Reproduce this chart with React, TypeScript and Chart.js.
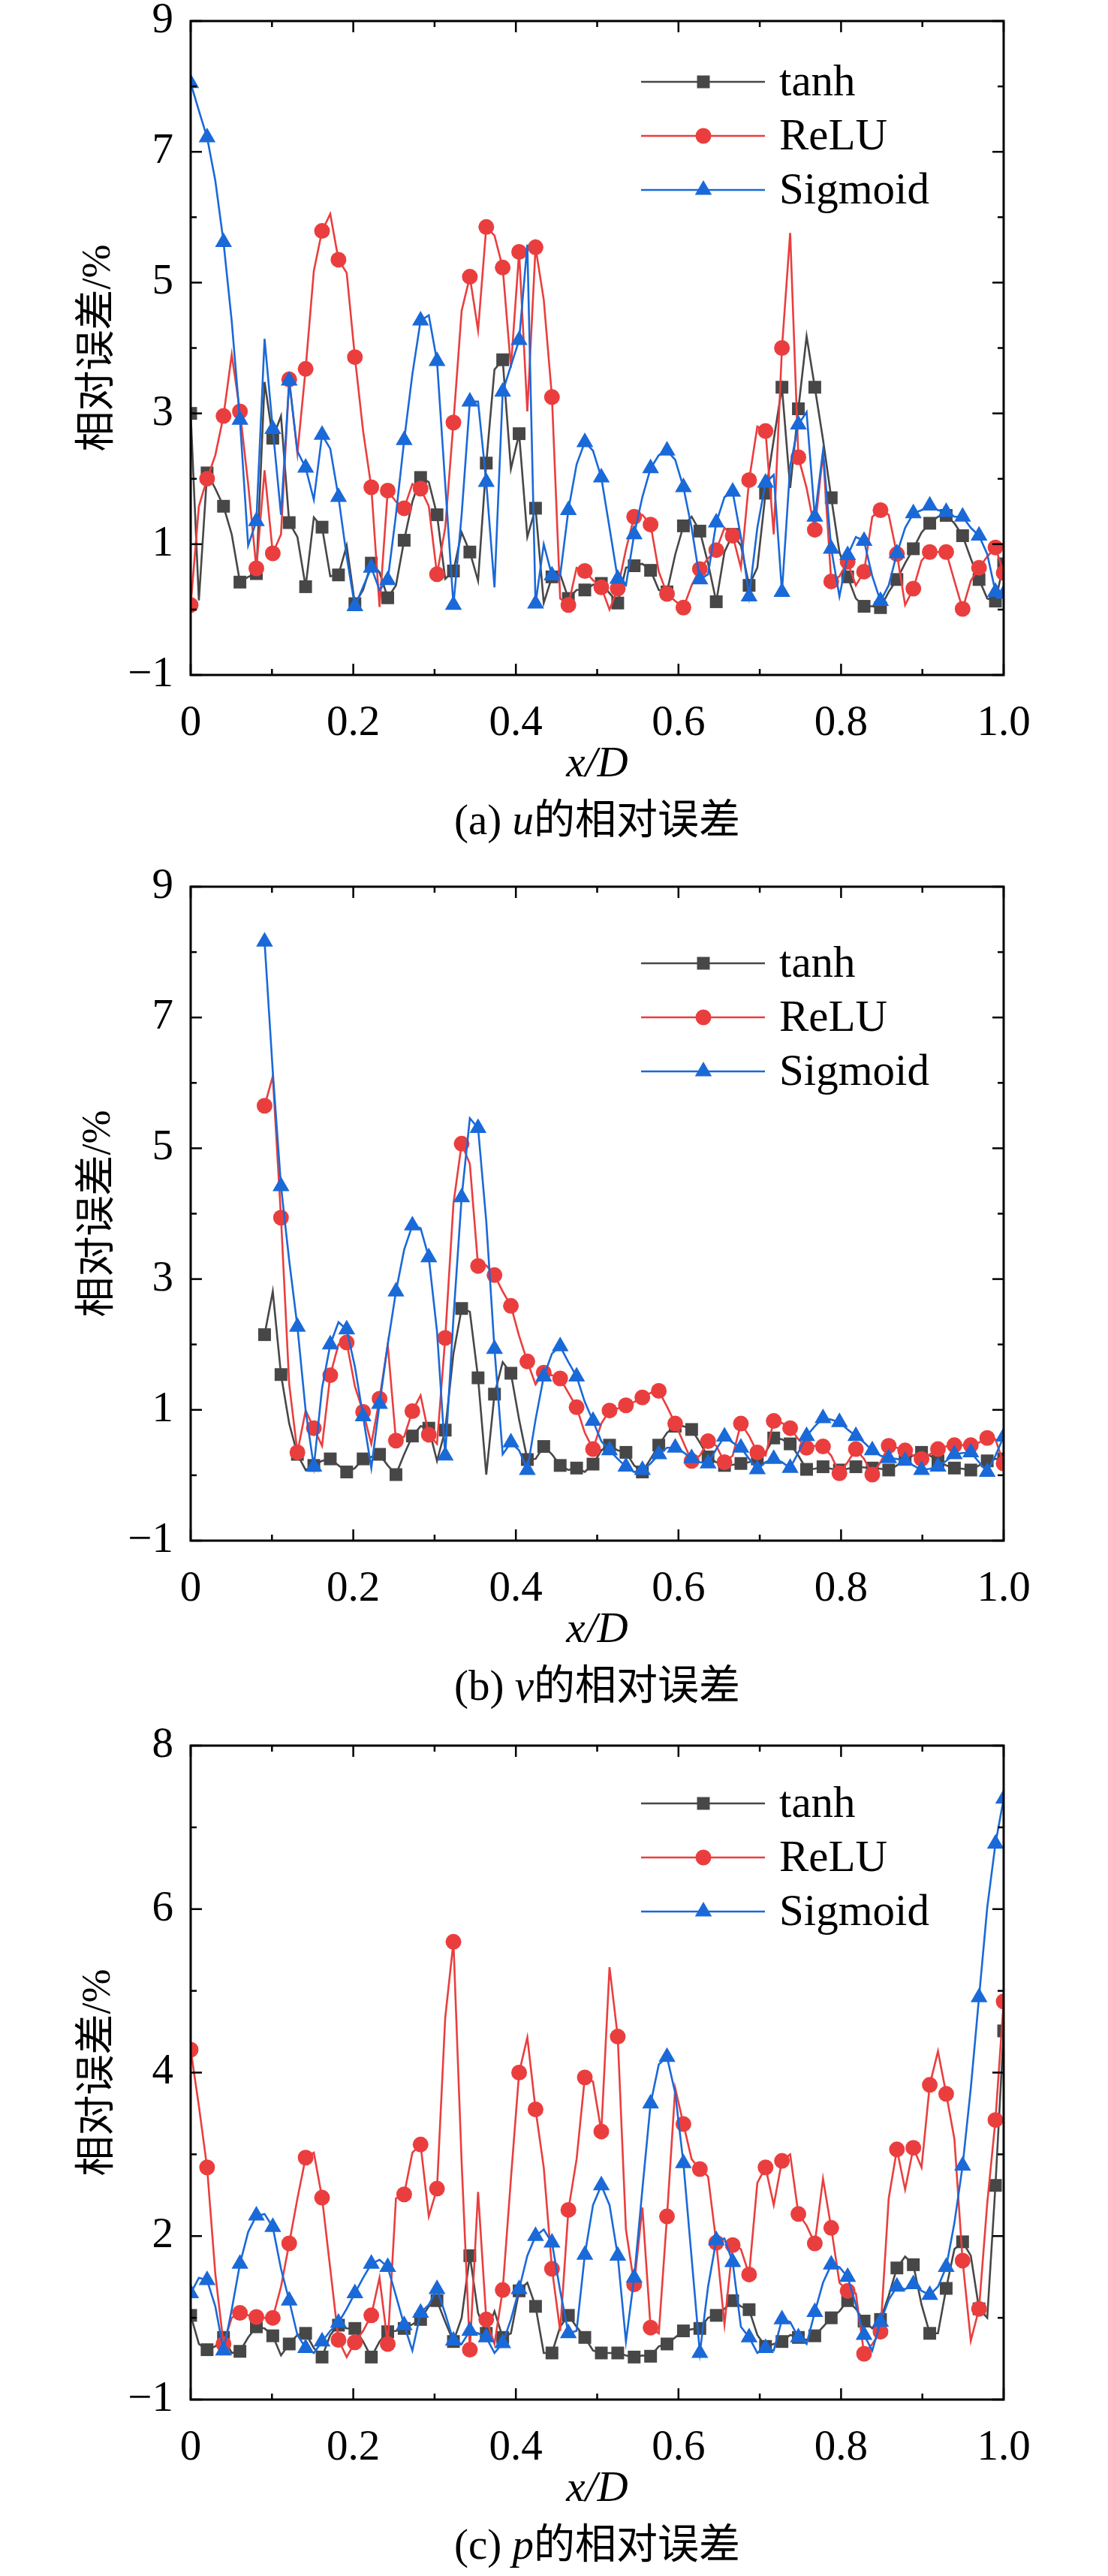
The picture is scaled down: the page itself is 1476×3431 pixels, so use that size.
import { useEffect, useRef } from 'react';
import { Chart, registerables } from 'chart.js';

Chart.register(...registerables);

// sample positions x/D (100 points, markers on every other one)
const X_GRID = [
  0, 0.0101, 0.0202, 0.0303, 0.0404, 0.0505, 0.0606, 0.0707, 0.0808, 0.0909,
  0.101, 0.1111, 0.1212, 0.1313, 0.1414, 0.1515, 0.1616, 0.1717, 0.1818, 0.1919,
  0.202, 0.2121, 0.2222, 0.2323, 0.2424, 0.2525, 0.2626, 0.2727, 0.2828, 0.2929,
  0.303, 0.3131, 0.3232, 0.3333, 0.3434, 0.3535, 0.3636, 0.3737, 0.3838, 0.3939,
  0.404, 0.4141, 0.4242, 0.4343, 0.4444, 0.4545, 0.4646, 0.4747, 0.4848, 0.4949,
  0.5051, 0.5152, 0.5253, 0.5354, 0.5455, 0.5556, 0.5657, 0.5758, 0.5859, 0.596,
  0.6061, 0.6162, 0.6263, 0.6364, 0.6465, 0.6566, 0.6667, 0.6768, 0.6869, 0.697,
  0.7071, 0.7172, 0.7273, 0.7374, 0.7475, 0.7576, 0.7677, 0.7778, 0.7879, 0.798,
  0.8081, 0.8182, 0.8283, 0.8384, 0.8485, 0.8586, 0.8687, 0.8788, 0.8889, 0.899,
  0.9091, 0.9192, 0.9293, 0.9394, 0.9495, 0.9596, 0.9697, 0.9798, 0.9899, 1,
];

const SERIES_NAMES = ['tanh', 'ReLU', 'Sigmoid'];
const SERIES_COLORS = ['#474747', '#EA3E3E', '#1A69D8'];
const SERIES_MARKERS = ['rect', 'circle', 'triangle'];
const MARKER_RADIUS = [12, 10.5, 13];

const X_TICKS = [0, 0.2, 0.4, 0.6, 0.8, 1.0];
const X_MINOR = [0.1, 0.3, 0.5, 0.7, 0.9];
const UV_Y_TICKS = [-1, 1, 3, 5, 7, 9];
const UV_Y_LABELS = ['\u22121', '1', '3', '5', '7', '9'];
const UV_Y_MINOR = [0, 2, 4, 6, 8];
const P_Y_TICKS = [0, 2, 4, 6, 8];
const P_Y_LABELS = ['\u22121', '2', '4', '6', '8'];
const P_Y_MINOR = [1, 3, 5, 7];

// (a) u
const U_TANH = [
  3.0, 0.14, 2.09, 1.85, 1.58, 1.15, 0.42, 0.5, 0.55, 3.48,
  2.62, 2.96, 1.33, 1.11, 0.35, 1.41, 1.26, 0.51, 0.53, 0.98,
  0.09, 0.3, 0.71, 0.57, 0.18, 0.37, 1.06, 1.65, 2.02, 1.95,
  1.45, 0.47, 0.59, 1.18, 0.88, 0.44, 2.24, 3.67, 3.82, 2.15,
  2.69, 1.11, 1.55, 0.1, 0.5, 0.54, 0.17, 0.3, 0.3, 0.38,
  0.4, 0.25, 0.1, 0.64, 0.67, 0.7, 0.6, 0.3, 0.27, 0.84,
  1.28, 1.42, 1.2, 0.71, 0.12, 0.88, 1.15, 0.98, 0.37, 0.64,
  1.78, 2.6, 3.4, 1.86, 3.07, 4.18, 3.4, 2.6, 1.71, 0.88,
  0.5, 0.17, 0.05, 0.05, 0.03, 0.27, 0.46, 0.71, 0.93, 1.18,
  1.32, 1.42, 1.44, 1.32, 1.13, 0.78, 0.46, 0.17, 0.13, 0.7,
];
const U_RELU = [
  0.07, 1.58, 2.0, 2.36, 2.96, 3.9, 3.03, 1.92, 0.63, 2.13,
  0.86, 1.15, 3.52, 2.39, 3.68, 5.18, 5.79, 6.05, 5.35, 5.15,
  3.86, 2.73, 1.87, 0.04, 1.82, 1.65, 1.55, 1.92, 1.85, 1.58,
  0.54, 1.25, 2.86, 4.57, 5.09, 4.27, 5.85, 5.72, 5.23, 3.7,
  5.47, 3.03, 5.54, 4.74, 3.25, 0.17, 0.07, 0.64, 0.59, 0.45,
  0.34, 0.0, 0.32, 0.92, 1.42, 1.45, 1.3, 0.58, 0.24, 0.13,
  0.03, 0.37, 0.62, 0.78, 0.91, 1.25, 1.13, 0.64, 1.98, 2.8,
  2.73, 1.15, 4.0, 5.76, 2.33, 1.86, 1.22, 2.39, 0.43, 0.51,
  0.73, 0.37, 0.58, 1.42, 1.52, 1.45, 0.85, 0.07, 0.32, 0.75,
  0.88, 0.88, 0.88, 0.44, 0.01, 0.44, 0.64, 0.81, 0.95, 0.56,
];
const U_SIGMOID = [
  8.05, 7.63, 7.22, 6.56, 5.62, 4.41, 2.9, 0.98, 1.35, 4.14,
  2.76, 1.45, 3.5, 2.42, 2.17, 1.68, 2.67, 2.46, 1.72, 0.81,
  0.05, 0.35, 0.64, 0.3, 0.45, 1.45, 2.59, 3.6, 4.42, 4.5,
  3.8, 1.92, 0.07, 1.45, 3.18, 3.18, 1.95, 0.34, 3.33, 3.73,
  4.12, 5.58, 0.09, 1.0, 0.52, 0.52, 1.52, 2.22, 2.56, 2.43,
  2.02, 1.25, 0.47, 0.37, 1.15, 1.72, 2.16, 2.36, 2.43, 2.29,
  1.87, 1.25, 0.46, 0.54, 1.33, 1.72, 1.8, 1.11, 0.2, 1.25,
  1.94, 2.06, 0.27, 2.19, 2.83, 3.02, 1.42, 2.43, 0.93, 0.2,
  0.83, 1.11, 1.05, 0.51, 0.13, 0.37, 0.86, 1.25, 1.47, 1.52,
  1.59, 1.52, 1.49, 1.42, 1.42, 1.25, 1.13, 0.85, 0.27, 0.24,
];

// (b) v, no data before x/D = 0.09
const V_TANH = [
  null, null, null, null, null, null, null, null, null, 2.15,
  2.81, 1.54, 0.79, 0.32, 0.08, 0.15, 0.22, 0.25, 0.15, 0.05,
  0.11, 0.25, 0.28, 0.32, 0.15, 0.01, 0.32, 0.6, 0.75, 0.72,
  0.22, 0.69, 1.86, 2.55, 2.5, 1.49, 0.01, 1.24, 1.73, 1.56,
  0.85, 0.24, 0.25, 0.44, 0.32, 0.15, 0.08, 0.11, 0.05, 0.17,
  0.38, 0.46, 0.38, 0.35, 0.15, 0.05, 0.25, 0.46, 0.65, 0.75,
  0.75, 0.7, 0.5, 0.28, 0.2, 0.15, 0.16, 0.18, 0.2, 0.25,
  0.35, 0.57, 0.55, 0.48, 0.3, 0.09, 0.1, 0.13, 0.1, 0.08,
  0.1, 0.13, 0.12, 0.11, 0.1, 0.08, 0.15, 0.25, 0.3, 0.35,
  0.3, 0.22, 0.15, 0.11, 0.1, 0.08, 0.15, 0.22, 0.25, 0.25,
];
const V_RELU = [
  null, null, null, null, null, null, null, null, null, 5.65,
  6.1, 3.94, 1.39, 0.35, 0.99, 0.72, 0.45, 1.53, 2.0, 2.03,
  1.36, 0.97, 0.48, 1.17, 2.0, 0.53, 0.59, 0.98, 1.22, 0.62,
  0.48, 2.1, 4.15, 5.07, 4.76, 3.2, 3.21, 3.06, 2.81, 2.59,
  2.13, 1.74, 1.39, 1.57, 1.53, 1.48, 1.26, 1.04, 0.65, 0.4,
  0.79, 0.99, 1.02, 1.07, 1.12, 1.19, 1.26, 1.29, 1.05, 0.79,
  0.5, 0.22, 0.3, 0.52, 0.45, 0.2, 0.3, 0.79, 0.6, 0.35,
  0.3, 0.83, 0.8, 0.72, 0.55, 0.42, 0.45, 0.44, 0.3, 0.03,
  0.2, 0.4, 0.25, 0.01, 0.2, 0.45, 0.42, 0.38, 0.3, 0.25,
  0.32, 0.4, 0.44, 0.46, 0.46, 0.46, 0.5, 0.57, 0.55, 0.18,
];
const V_SIGMOID = [
  null, null, null, null, null, null, null, null, null, 8.16,
  6.17, 4.42, 3.28, 2.27, 0.99, 0.13, 1.33, 2.0, 2.34, 2.23,
  1.66, 0.9, 0.11, 1.09, 2.0, 2.81, 3.45, 3.82, 3.78, 3.33,
  2.2, 0.3, 2.4, 4.25, 5.46, 5.31, 3.88, 1.93, 0.32, 0.5,
  0.38, 0.08, 0.85, 1.51, 1.86, 1.97, 1.73, 1.51, 1.12, 0.83,
  0.52, 0.38, 0.25, 0.13, 0.05, 0.08, 0.18, 0.32, 0.42, 0.42,
  0.35, 0.26, 0.2, 0.18, 0.4, 0.59, 0.5, 0.42, 0.25, 0.09,
  0.2, 0.25, 0.2, 0.11, 0.35, 0.6, 0.75, 0.87, 0.85, 0.81,
  0.7, 0.6, 0.5, 0.38, 0.3, 0.26, 0.25, 0.22, 0.15, 0.08,
  0.1, 0.13, 0.22, 0.32, 0.34, 0.35, 0.2, 0.05, 0.3, 0.59,
];

// (c) p
const P_TANH = [
  1.03, 0.68, 0.61, 0.65, 0.76, 0.57, 0.59, 0.76, 0.89, 0.87,
  0.78, 0.54, 0.68, 0.79, 0.81, 0.63, 0.52, 0.79, 0.91, 0.87,
  0.87, 0.71, 0.52, 0.71, 0.83, 0.84, 0.87, 0.92, 0.98, 1.14,
  1.21, 0.95, 0.71, 1.0, 1.76, 1.06, 0.81, 1.08, 0.76, 0.81,
  1.33, 1.43, 1.14, 0.57, 0.57, 0.89, 1.03, 0.89, 0.76, 0.6,
  0.57, 0.57, 0.57, 0.54, 0.52, 0.54, 0.53, 0.65, 0.68, 0.76,
  0.84, 0.86, 0.87, 1.0, 1.03, 1.11, 1.21, 1.14, 1.1, 0.79,
  0.65, 0.68, 0.71, 0.79, 0.76, 0.73, 0.78, 0.89, 1.0, 1.08,
  1.21, 1.11, 0.96, 0.87, 0.98, 1.27, 1.61, 1.75, 1.65, 1.16,
  0.81, 0.81, 1.36, 1.84, 1.93, 1.76, 1.11, 1.0, 2.62, 4.51,
];
const P_RELU = [
  4.28, 3.59, 2.84, 1.54, 0.68, 1.0, 1.06, 1.03, 1.01, 1.0,
  1.0, 1.38, 1.91, 2.46, 2.96, 3.02, 2.47, 1.6, 0.73, 0.52,
  0.7, 0.84, 1.03, 1.49, 0.68, 2.46, 2.51, 3.02, 3.12, 2.24,
  2.58, 4.67, 5.6, 2.9, 0.61, 2.54, 0.98, 0.68, 1.34, 2.7,
  4.0, 4.43, 3.55, 2.84, 1.6, 0.84, 2.32, 2.94, 3.94, 3.89,
  3.28, 5.29, 4.44, 2.08, 1.41, 2.35, 0.88, 0.81, 2.24, 3.81,
  3.37, 2.94, 2.82, 2.73, 1.92, 0.92, 1.89, 1.84, 1.53, 2.65,
  2.84, 2.38, 2.92, 3.0, 2.27, 2.13, 1.91, 2.7, 2.1, 1.43,
  1.33, 1.3, 0.56, 0.68, 0.83, 2.46, 3.06, 2.57, 3.08, 2.84,
  3.85, 4.26, 3.74, 3.19, 1.7, 0.72, 1.11, 2.4, 3.42, 4.87,
];
const P_SIGMOID = [
  1.3, 1.49, 1.46, 1.14, 0.6, 1.1, 1.66, 2.05, 2.25, 2.27,
  2.11, 1.6, 1.21, 0.79, 0.63, 0.57, 0.71, 0.84, 0.94, 1.11,
  1.3, 1.49, 1.66, 1.71, 1.62, 1.27, 0.91, 0.6, 1.06, 1.16,
  1.35, 1.05, 0.72, 0.68, 0.84, 0.81, 0.76, 0.57, 0.69, 0.98,
  1.35, 1.76, 2.0, 2.08, 1.92, 1.33, 0.81, 0.84, 1.77, 2.38,
  2.62, 2.38, 1.76, 0.71, 1.49, 2.57, 3.62, 4.1, 4.19, 3.75,
  2.89, 1.73, 0.57, 1.38, 1.95, 1.97, 1.68, 0.89, 0.76, 0.57,
  0.63, 0.6, 0.98, 0.95, 0.76, 0.68, 1.07, 1.43, 1.65, 1.62,
  1.5, 1.16, 0.79, 0.6, 0.95, 1.22, 1.38, 1.35, 1.41, 1.33,
  1.28, 1.38, 1.62, 2.16, 2.86, 3.81, 4.92, 6.02, 6.8, 7.35,
];

const SERIF = "'Liberation Serif', 'Times New Roman', 'Noto Sans CJK SC', serif";
const CANVAS_W = 1476;
const PLOT_TOP = 28;
const PLOT_BOTTOM = 899;
const PLOT_LEFT = 254;
const PLOT_RIGHT = 1337;

interface PanelProps {
  height: number;
  series: (number | null)[][];
  markerStart: number;
  yMin: number;
  yMax: number;
  yTicks: number[];
  yLabels: string[];
  yMinor: number[];
  legendTop: number;
  captionLetter: string;
  captionVar: string;
}

function drawMarker(ctx: CanvasRenderingContext2D, style: string, x: number, y: number, r: number) {
  ctx.beginPath();
  if (style === 'rect') {
    const s = r * Math.SQRT1_2;
    ctx.rect(x - s, y - s, 2 * s, 2 * s);
  } else if (style === 'circle') {
    ctx.arc(x, y, r, 0, Math.PI * 2);
  } else {
    ctx.moveTo(x, y - r);
    ctx.lineTo(x + r * Math.sin(Math.PI * 2 / 3), y + r / 2);
    ctx.lineTo(x - r * Math.sin(Math.PI * 2 / 3), y + r / 2);
    ctx.closePath();
  }
  ctx.fill();
}

function Panel(props: PanelProps) {
  const canvasRef = useRef<HTMLCanvasElement | null>(null);

  useEffect(() => {
    if (!canvasRef.current) return;
    const { height, series, markerStart, yMin, yMax, yTicks, yLabels, yMinor, legendTop, captionLetter, captionVar } = props;

    const datasets = series.map((vals, k) => ({
      label: SERIES_NAMES[k],
      data: X_GRID.map((x, i) => ({ x, y: vals[i], i })).filter(p => p.y !== null),
      borderColor: SERIES_COLORS[k],
      backgroundColor: SERIES_COLORS[k],
      borderWidth: 2.6,
      tension: 0,
      order: 2 - k,
      pointStyle: SERIES_MARKERS[k],
      pointBackgroundColor: SERIES_COLORS[k],
      pointBorderColor: SERIES_COLORS[k],
      pointBorderWidth: 0,
      pointRadius: (c: any) => {
        const i = c.raw ? c.raw.i : 0;
        return (i - markerStart) % 2 === 0 || i === X_GRID.length - 1 ? MARKER_RADIUS[k] : 0;
      },
    }));

    const framePlugin = {
      id: 'frame',
      afterDraw(chart: any) {
        const { ctx, chartArea: a, scales } = chart;
        const xs = scales.x;
        const ys = scales.y;
        ctx.save();
        ctx.strokeStyle = '#000';
        ctx.lineWidth = 2.5;
        const seg = (x1: number, y1: number, x2: number, y2: number) => {
          ctx.beginPath();
          ctx.moveTo(x1, y1);
          ctx.lineTo(x2, y2);
          ctx.stroke();
        };
        // inward ticks on all four sides
        X_TICKS.forEach(v => {
          const p = xs.getPixelForValue(v);
          seg(p, a.bottom, p, a.bottom - 15);
          seg(p, a.top, p, a.top + 15);
        });
        X_MINOR.forEach(v => {
          const p = xs.getPixelForValue(v);
          seg(p, a.bottom, p, a.bottom - 8);
          seg(p, a.top, p, a.top + 8);
        });
        yTicks.forEach(v => {
          const p = ys.getPixelForValue(v);
          seg(a.left, p, a.left + 15, p);
          seg(a.right, p, a.right - 15, p);
        });
        yMinor.forEach(v => {
          const p = ys.getPixelForValue(v);
          seg(a.left, p, a.left + 8, p);
          seg(a.right, p, a.right - 8, p);
        });
        ctx.lineWidth = 3;
        ctx.strokeRect(a.left, a.top, a.right - a.left, a.bottom - a.top);

        // legend
        ctx.textAlign = 'left';
        ctx.textBaseline = 'middle';
        ctx.font = `59px ${SERIF}`;
        SERIES_NAMES.forEach((name, k) => {
          const y = a.top + legendTop + k * 72;
          ctx.strokeStyle = SERIES_COLORS[k];
          ctx.fillStyle = SERIES_COLORS[k];
          ctx.lineWidth = 2.6;
          seg(854, y, 1019, y);
          drawMarker(ctx, SERIES_MARKERS[k], 937, y, MARKER_RADIUS[k]);
          ctx.fillStyle = '#000';
          ctx.fillText(name, 1038, y + 2);
        });

        ctx.fillStyle = '#000';
        const cx = (a.left + a.right) / 2;

        // x title
        ctx.textAlign = 'center';
        ctx.font = `italic 57px ${SERIF}`;
        ctx.fillText('x/D', cx, a.bottom + 120);

        // y title
        ctx.save();
        ctx.translate(132, (a.top + a.bottom) / 2);
        ctx.rotate(-Math.PI / 2);
        ctx.font = `54px ${SERIF}`;
        ctx.fillText('相对误差/%', 0, 0);
        ctx.restore();

        // caption with italic variable
        const parts = [
          { t: `(${captionLetter}) `, f: `57px ${SERIF}` },
          { t: captionVar, f: `italic 57px ${SERIF}` },
          { t: '的相对误差', f: `55px ${SERIF}` },
        ];
        let total = 0;
        parts.forEach(p => { ctx.font = p.f; total += ctx.measureText(p.t).width; });
        let x = cx - total / 2;
        ctx.textAlign = 'left';
        parts.forEach(p => {
          ctx.font = p.f;
          ctx.fillText(p.t, x, a.bottom + 197);
          x += ctx.measureText(p.t).width;
        });
        ctx.restore();
      },
    };

    const chart = new Chart(canvasRef.current, {
      type: 'line',
      data: { datasets: datasets as any },
      options: {
        animation: false,
        responsive: false,
        devicePixelRatio: 1,
        layout: { padding: { top: PLOT_TOP, right: CANVAS_W - PLOT_RIGHT, left: 0, bottom: 0 } },
        plugins: { legend: { display: false }, tooltip: { enabled: false } },
        scales: {
          x: {
            type: 'linear',
            min: 0,
            max: 1,
            afterBuildTicks: (s: any) => { s.ticks = X_TICKS.map(v => ({ value: v })); },
            afterFit: (s: any) => {
              s.height = height - PLOT_BOTTOM;
              s.paddingLeft = 0;
              s.paddingRight = 0;
            },
            grid: { display: false, drawTicks: false },
            border: { display: false },
            ticks: {
              color: '#000',
              font: { family: SERIF, size: 57 },
              padding: 31,
              maxRotation: 0,
              autoSkip: false,
              callback: (v: any) => (Number(v) === 0 ? '0' : Number(v).toFixed(1)),
            },
          },
          y: {
            type: 'linear',
            min: yMin,
            max: yMax,
            afterBuildTicks: (s: any) => { s.ticks = yTicks.map(v => ({ value: v })); },
            afterFit: (s: any) => {
              s.width = PLOT_LEFT;
              s.paddingTop = 0;
              s.paddingBottom = 0;
            },
            grid: { display: false, drawTicks: false },
            border: { display: false },
            ticks: {
              color: '#000',
              font: { family: SERIF, size: 57 },
              padding: 23,
              autoSkip: false,
              callback: (v: any) => {
                const idx = yTicks.indexOf(Number(v));
                return idx >= 0 ? yLabels[idx] : '';
              },
            },
          },
        },
      },
      plugins: [framePlugin],
    } as any);

    return () => chart.destroy();
  }, []);

  return (
    <canvas
      ref={canvasRef}
      width={CANVAS_W}
      height={props.height}
      style={{ display: 'block', width: CANVAS_W, height: props.height }}
    />
  );
}

export default function App() {
  return (
    <div style={{ position: 'absolute', left: 0, top: 0, width: CANVAS_W, height: 3431, background: '#fff' }}>
      <Panel
        height={1153}
        series={[U_TANH, U_RELU, U_SIGMOID]}
        markerStart={0}
        yMin={-1}
        yMax={9}
        yTicks={UV_Y_TICKS}
        yLabels={UV_Y_LABELS}
        yMinor={UV_Y_MINOR}
        legendTop={81}
        captionLetter="a"
        captionVar="u"
      />
      <Panel
        height={1144}
        series={[V_TANH, V_RELU, V_SIGMOID]}
        markerStart={9}
        yMin={-1}
        yMax={9}
        yTicks={UV_Y_TICKS}
        yLabels={UV_Y_LABELS}
        yMinor={UV_Y_MINOR}
        legendTop={102}
        captionLetter="b"
        captionVar="v"
      />
      <Panel
        height={1134}
        series={[P_TANH, P_RELU, P_SIGMOID]}
        markerStart={0}
        yMin={0}
        yMax={8}
        yTicks={P_Y_TICKS}
        yLabels={P_Y_LABELS}
        yMinor={P_Y_MINOR}
        legendTop={77}
        captionLetter="c"
        captionVar="p"
      />
    </div>
  );
}
